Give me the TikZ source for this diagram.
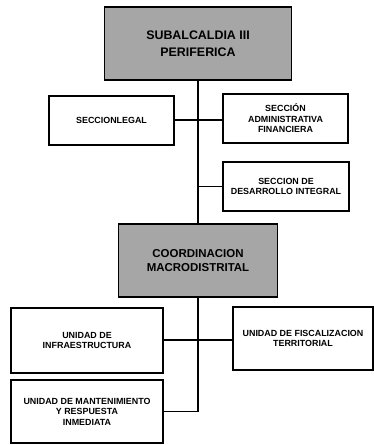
\documentclass[tikz,border=0pt]{standalone}
\usepackage{fontspec}
\setmainfont{Liberation Sans}

\def\xscale{0.03}
\def\yscale{-0.03}

\begin{document}
\begin{tikzpicture}[x=\xscale cm,y=\yscale cm]
\tikzstyle{caja}=[draw,line width=1.2pt,fill=white,align=center,inner sep=1pt,font=\fontsize{7.6}{8.9}\selectfont\bfseries]
\tikzstyle{jefe}=[caja,fill=black!35]
\tikzstyle{linea}=[line width=1.1pt]

\useasboundingbox (0,0) rectangle (374,445);

\def\t{198}

% cabeza
\node[jefe,font=\fontsize{10.6}{14.5}\selectfont\bfseries,minimum width=187*\xscale cm,minimum height=73*\xscale cm] (sub) at (\t,43.5) {SUBALCALDIA III\\PERIFERICA};

% secciones
\node[caja,minimum width=125*\xscale cm,minimum height=49*\xscale cm] (legal) at (111.5,120.5) {SECCIONLEGAL};
\node[caja,minimum width=125*\xscale cm,minimum height=49*\xscale cm] (admin) at (285.5,118.5) {SECCIÓN\\ADMINISTRATIVA\\FINANCIERA};
\node[caja,minimum width=126*\xscale cm,minimum height=49*\xscale cm] (desa) at (286,186.5) {SECCION DE\\DESARROLLO INTEGRAL};

% coordinacion
\node[jefe,font=\fontsize{9.8}{11.5}\selectfont\bfseries,minimum width=159*\xscale cm,minimum height=73*\xscale cm] (coord) at (\t,260.5) {COORDINACION\\MACRODISTRITAL};

% unidades
\node[caja,minimum width=152*\xscale cm,minimum height=65*\xscale cm] (infra) at (87,340.5) {UNIDAD DE\\INFRAESTRUCTURA};
\node[caja,minimum width=140*\xscale cm,minimum height=63*\xscale cm] (fisc) at (303,338.5) {UNIDAD DE FISCALIZACION\\TERRITORIAL};
\node[caja,minimum width=152*\xscale cm,minimum height=63*\xscale cm] (mant) at (87,411.5) {UNIDAD DE MANTENIMIENTO\\Y RESPUESTA\\INMEDIATA};

% lineas
\draw[linea] (sub.south) -- (coord.north);
\draw[linea] (legal.east |- 0,120) -- (admin.west |- 0,120);
\draw[linea] (sub.south |- desa.west) -- (desa.west);
\draw[linea] (coord.south) |- (mant.east);
\draw[linea] (infra.east |- 0,340) -- (fisc.west |- 0,340);

\end{tikzpicture}
\end{document}
